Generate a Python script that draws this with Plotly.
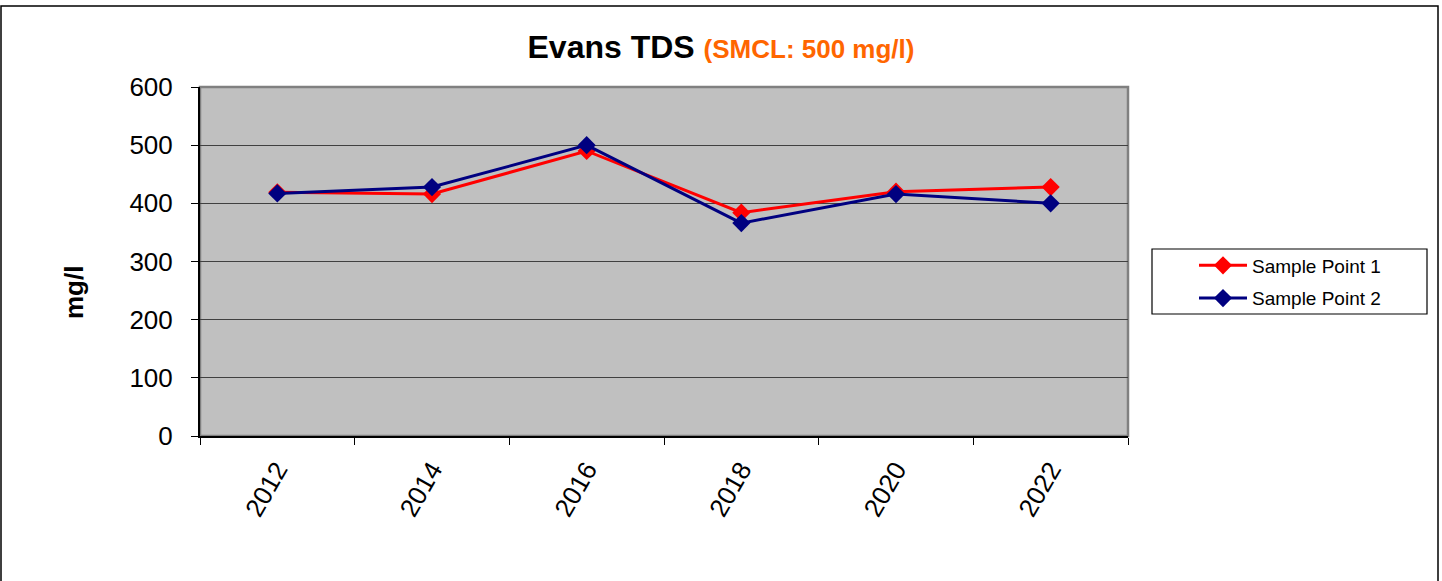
import plotly.graph_objects as go

years = ["2012", "2014", "2016", "2018", "2020", "2022"]
sample_point_1 = [419, 416, 490, 384, 420, 428]
sample_point_2 = [417, 428, 500, 366, 416, 400]
y_ticks = [0, 100, 200, 300, 400, 500, 600]

W, H = 1442, 581
L, R, T, B = 200, 314, 87, 145
PW, PH = W - L - R, H - T - B


def px(x):
    return (x - L) / PW


def py(y):
    return (H - B - y) / PH


fig = go.Figure()
fig.add_trace(go.Scatter(
    x=years, y=sample_point_1, name="Sample Point 1", mode="lines+markers",
    legendgroup="sp1",
    line=dict(color="#FF0000", width=3),
    marker=dict(symbol="diamond", size=14, color="#FF0000")))
fig.add_trace(go.Scatter(
    x=years, y=sample_point_2, name="Sample Point 2", mode="lines+markers",
    legendgroup="sp2",
    line=dict(color="#000080", width=3),
    marker=dict(symbol="diamond", size=14, color="#000080")))

fig.update_layout(
    width=W, height=H,
    margin=dict(l=L, r=R, t=T, b=B),
    paper_bgcolor="white", plot_bgcolor="#C0C0C0",
    font=dict(family="Arial, Liberation Sans, sans-serif", color="black"),
    title=dict(
        text="<b>Evans TDS</b> <b><span style='color:#FF6600;font-size:26px'>(SMCL: 500 mg/l)</span></b>",
        x=0.5, xanchor="center", xref="container", y=1 - 47 / H, yanchor="middle",
        font=dict(size=32, color="black")),
    showlegend=True,
    legend=dict(
        x=px(1194), xanchor="left", y=py(282), yanchor="middle",
        bgcolor="rgba(0,0,0,0)", borderwidth=0,
        font=dict(size=19), itemwidth=48, tracegroupgap=5),
    xaxis=dict(
        type="category", range=[-0.5, 5.5], tickson="boundaries",
        ticks="outside", ticklen=7, tickcolor="black",
        showline=True, linecolor="black", linewidth=2,
        showgrid=False, tickangle=-60, tickfont=dict(size=26),
        ticklabelstandoff=6),
    yaxis=dict(
        range=[0, 600], tickvals=y_ticks, ticks="outside", ticklen=7, tickcolor="black",
        showline=True, linecolor="black", linewidth=2,
        showgrid=True, gridcolor="#404040", gridwidth=1,
        tickfont=dict(size=26), ticklabelstandoff=13),
)

fig.add_annotation(text="<b>mg/l</b>", xref="paper", yref="paper",
                   x=px(57), y=py(293), textangle=-90, showarrow=False,
                   font=dict(size=26, color="black"))

# plot-area frame (gray border)
fig.add_shape(type="rect", xref="paper", yref="paper", x0=0, y0=0, x1=1, y1=1,
              line=dict(color="#808080", width=2.5), layer="below")
# legend box
fig.add_shape(type="rect", xref="paper", yref="paper",
              x0=px(1152), x1=px(1427), y0=py(314), y1=py(249),
              line=dict(color="black", width=1.2), fillcolor="white", layer="below")
# outer chart border
fig.add_shape(type="rect", xref="paper", yref="paper",
              x0=px(1), x1=px(1438), y0=py(600), y1=py(6),
              line=dict(color="black", width=1.5))

fig.write_html("out.html", config={"displayModeBar": False},
               post_script="document.body.style.margin='0px';document.body.style.overflow='hidden';")
